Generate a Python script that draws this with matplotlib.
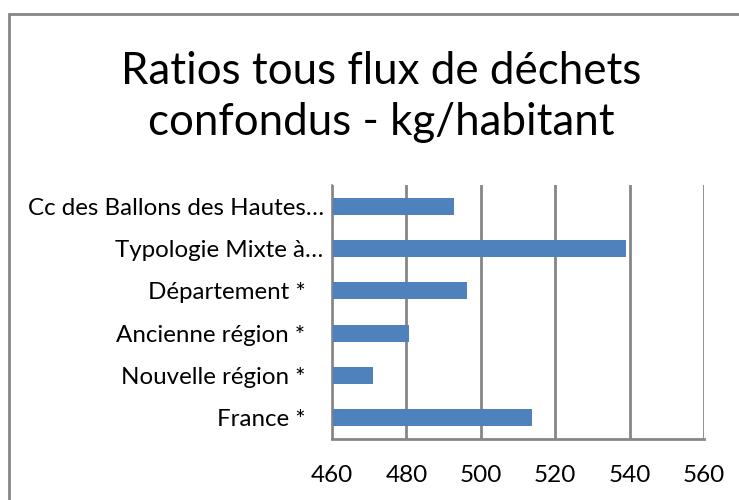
import matplotlib
matplotlib.use("Agg")
import matplotlib.pyplot as plt
from matplotlib.patches import Rectangle

categories = ["Cc des Ballons des Hautes…", "Typologie Mixte à…", "Département *",
              "Ancienne région *", "Nouvelle région *", "France *"]
values = [492.8, 539.1, 496.3, 480.7, 471.0, 513.8]
xticks = [460, 480, 500, 520, 540, 560]
title = "Ratios tous flux de déchets\nconfondus - kg/habitant"

plt.rcParams['font.family'] = ['Lato', 'DejaVu Sans']

fig = plt.figure(figsize=(7.39, 5.0), dpi=100)
ax = fig.add_axes([332/739, 61/500, 372/739, 254/500])

ypos = list(range(len(categories)))[::-1]
ax.barh(ypos, [v - 460 for v in values], left=460, height=0.4, color='#4F81BD', zorder=3)
ax.set_xlim(460, 560)
ax.set_ylim(-0.5, len(categories) - 0.5)
ax.set_xticks(xticks)
ax.set_xticklabels([str(t) for t in xticks], fontsize=17.5)
ax.set_yticks(ypos)
shown = [c if c.endswith('…') else c + '   ' for c in categories]
ax.set_yticklabels(shown, fontsize=17.4)
ax.tick_params(axis='x', length=0, pad=19)
ax.tick_params(axis='y', length=0, pad=6)
ax.grid(axis='x', color='#868686', linewidth=2, zorder=0)
for s in ['top', 'right']:
    ax.spines[s].set_visible(False)
ax.spines['left'].set_color('#868686')
ax.spines['left'].set_linewidth(1.2)
ax.spines['left'].set_zorder(4)
ax.spines['bottom'].set_color('#868686')
ax.spines['bottom'].set_linewidth(2)

fig.text(381/739, 1 - 97/500, title, ha='center', va='center', fontsize=31.6,
         linespacing=1.30)

fig.patches.append(Rectangle((9/739, -0.1), 1.0, 1 - 14/500 + 0.1,
                             transform=fig.transFigure, fill=False,
                             edgecolor='#868686', linewidth=2))

fig.savefig("out.png", dpi=100)
